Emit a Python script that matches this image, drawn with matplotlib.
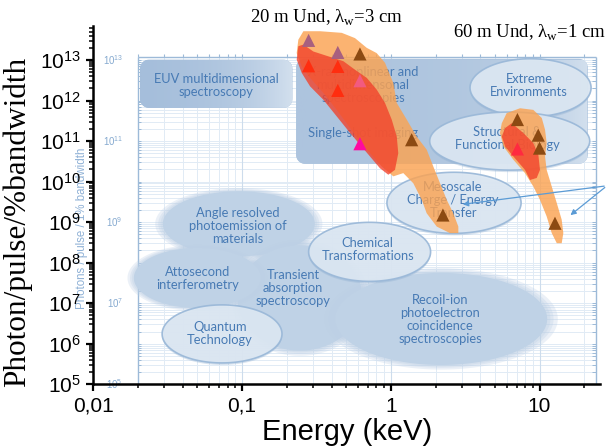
import numpy as np
import matplotlib.pyplot as plt
from matplotlib.ticker import FixedLocator, FixedFormatter, LogLocator, NullFormatter
from matplotlib.colors import LinearSegmentedColormap

plt.rcParams['mathtext.fontset'] = 'custom'
plt.rcParams['mathtext.rm'] = 'Liberation Sans'

# ---------------------------------------------------------------------------
# Undulator coverage (log10 keV, log10 photons) : outer envelope and core
und20_env_logE = [-0.588, -0.476, -0.330, -0.241, -0.162, -0.095, -0.039, 0.017, 0.040, 0.107,
                  0.174, 0.241, 0.286, 0.331, 0.376, 0.420, 0.454, 0.454, 0.398, 0.309,
                  0.241, 0.208, 0.151, 0.084, 0.017, -0.061, -0.140, -0.219, -0.297, -0.364,
                  -0.454, -0.543, -0.599, -0.633, -0.622]
und20_env_logN = [13.71, 13.71, 13.67, 13.54, 13.30, 13.17, 12.93, 12.43, 11.94, 11.53,
                  11.11, 10.79, 10.37, 9.96, 9.55, 9.22, 8.89, 8.73, 8.73, 8.89,
                  9.22, 9.55, 9.96, 10.21, 10.13, 10.37, 10.70, 11.03, 11.44, 11.77,
                  12.19, 12.56, 12.84, 13.17, 13.50]
und20_core_logE = [-0.622, -0.588, -0.521, -0.420, -0.319, -0.241, -0.162, -0.095, -0.039, 0.006,
                   0.040, 0.050, 0.028, -0.017, -0.073, -0.140, -0.207, -0.274, -0.364, -0.454,
                   -0.543, -0.599, -0.633]
und20_core_logN = [13.34, 13.38, 13.21, 13.09, 12.97, 12.76, 12.56, 12.27, 11.94, 11.53,
                   11.11, 10.70, 10.29, 10.17, 10.33, 10.62, 10.91, 11.20, 11.61, 12.02,
                   12.35, 12.68, 13.01]
und60_env_logE = [0.779, 0.869, 0.958, 1.015, 1.037, 1.048, 1.037, 1.048, 1.082, 1.116,
                  1.149, 1.160, 1.149, 1.116, 1.082, 1.048, 1.003, 0.958, 0.902, 0.824,
                  0.757, 0.734, 0.746]
und60_env_logN = [11.69, 11.81, 11.77, 11.57, 11.28, 10.95, 10.62, 10.29, 9.88, 9.47,
                  9.06, 8.73, 8.48, 8.48, 8.73, 9.14, 9.55, 9.88, 10.21, 10.54,
                  10.87, 11.20, 11.44]
und60_core_logE = [0.768, 0.813, 0.891, 0.958, 0.992, 1.003, 0.981, 0.936, 0.902, 0.824, 0.768, 0.746]
und60_core_logN = [11.32, 11.44, 11.20, 10.95, 10.66, 10.29, 10.09, 10.04, 10.29, 10.62, 10.87, 11.11]

# Harmonic points (keV, photons/pulse/0.1%BW)
und20_E = [0.28, 0.44, 0.62, 0.28, 0.44, 0.62, 0.44, 0.62, 1.38, 2.24]
und20_N = [3.05e13, 1.54e13, 1.41e13, 7.2e12, 6.95e12, 3.08e12, 1.78e12, 8.6e10, 1.08e11, 1.5e9]
und20_col = ['#a8607f', '#a8607f', '#8c4a12', '#ff2d0f', '#ff2d0f', '#f25a80', '#ff2d0f',
             '#ff0aa0', '#8c4a12', '#8c4a12']
und60_E = [7.1, 9.8, 10.0, 7.1, 12.7]
und60_N = [3.4e11, 1.4e11, 6.7e10, 6.4e10, 9.4e8]
und60_col = ['#8c4a12', '#8c4a12', '#8c4a12', '#ff2a40', '#8c4a12']

# Science cases (ellipses): centre, half axes in decades, style
sci_name = ['Angle resolved\nphotoemission of\nmaterials', 'Transient\nabsorption\nspectroscopy',
            'Attosecond\ninterferometry', 'Recoil-ion\nphotoelectron\ncoincidence\nspectroscopies',
            'Quantum\nTechnology', 'Chemical\nTransformations', 'Mesoscale\nCharge / Energy\nTransfer',
            'Extreme\nEnvironments', 'Structural &\nFunctional Biology']
sci_E = [0.095, 0.245, 0.050, 2.18, 0.0733, 0.72, 2.66, 8.7, 6.3]
sci_N = [9.1e8, 1.35e7, 4.2e7, 4.1e6, 1.75e6, 1.85e8, 3.0e9, 2.07e12, 1.0e11]
sci_dE = [0.511, 0.42, 0.427, 0.713, 0.403, 0.41, 0.451, 0.407, 0.538]
sci_dN = [0.802, 1.30, 0.741, 1.136, 0.716, 0.728, 0.753, 0.716, 0.716]
sci_ring = [False, False, False, False, True, True, True, True, True]
sci_text_E = [0.094, 0.22, 0.050, 2.14, 0.071, 0.70, 2.62, 8.5, 6.1]
sci_text_N = [8.1e8, 2.4e7, 4.0e7, 3.9e6, 1.75e6, 2.07e8, 3.56e9, 2.39e12, 1.14e11]

# Rounded boxes: energy range, photon range
box_E0 = [0.0206, 0.231]
box_E1 = [0.218, 21.1]
box_N0 = [6.6e11, 2.75e10]
box_N1 = [1.02e13, 1.07e13]
box_text = ['EUV multidimensional\nspectroscopy', 'X-ray nonlinear and\nmultidimensonal\nspectroscopies',
            'Single-shot imaging']
box_text_E = [0.0667, 0.65, 0.65]
box_text_N = [2.39e12, 2.46e12, 1.6e11]

# Background chart frame
frame_E = [0.02, 24.0]
frame_N = [1e5, 1.2e13]
frame_labels = [1e13, 1e11, 1e9, 1e7, 1e5]
# ---------------------------------------------------------------------------

TXT = '#477ab4'
t = np.linspace(0, 2 * np.pi, 240)


def ellipse_xy(e, n, de, dn, grow=0.0, shift=0.0):
    x = 10 ** (np.log10(e) + (de + grow * de) * np.cos(t))
    y = 10 ** (np.log10(n) - shift + (dn + grow * dn) * np.sin(t))
    return x, y


def rounded_box(e0, e1, n0, n1, rx=0.06, ry=0.22, k=14):
    x0, x1, y0, y1 = np.log10([e0, e1, n0, n1])
    a = np.linspace(0, np.pi / 2, k)
    xs, ys = [], []
    for cx, cy, a0 in [(x1 - rx, y1 - ry, 0), (x0 + rx, y1 - ry, np.pi / 2),
                       (x0 + rx, y0 + ry, np.pi), (x1 - rx, y0 + ry, 1.5 * np.pi)]:
        xs += list(cx + rx * np.cos(a0 + a))
        ys += list(cy + ry * np.sin(a0 + a))
    return 10 ** np.array(xs), 10 ** np.array(ys)


fig = plt.figure(figsize=(6.09, 4.47), dpi=100)
ax = fig.add_axes([93.4 / 609, 1 - 384.3 / 447, (600 - 93.4) / 609, (384.3 - 26) / 447])
ax.set_xscale('log')
ax.set_yscale('log')

# grid of the background chart
gx = np.array([k * 10.0 ** p for p in range(-2, 2) for k in range(1, 10)])
gx = gx[(gx >= frame_E[0]) & (gx <= frame_E[1])]
gy = np.array([k * 10.0 ** p for p in range(5, 14) for k in range(1, 10)])
gy = gy[(gy >= frame_N[0]) & (gy <= frame_N[1])]
ax.vlines(gx, frame_N[0], frame_N[1], color='#e1ebf5', lw=0.7, zorder=0.5)
ax.hlines(gy, frame_E[0], frame_E[1], color='#e1ebf5', lw=0.7, zorder=0.5)
ax.vlines([0.1, 1, 10], frame_N[0], frame_N[1], color='#cddcec', lw=0.8, zorder=0.6)
ax.vlines(frame_E, frame_N[0], frame_N[1], color='#9dbad8', lw=1.0, zorder=0.7)
ax.hlines(frame_N[1], frame_E[0], frame_E[1], color='#9dbad8', lw=1.0, zorder=0.7)
ax.vlines(gx, frame_N[1], frame_N[1] * 1.2, color='#9dbad8', lw=0.8, zorder=0.7)
ax.hlines(gy, frame_E[1] / 1.06, frame_E[1], color='#9dbad8', lw=0.7, zorder=0.7)
ax.hlines(gy, frame_E[0], frame_E[0] * 1.05, color='#9dbad8', lw=0.7, zorder=0.7)
for v in frame_labels:
    ax.text(0.0158, v, r'$\mathregular{10^{%d}}$' % np.log10(v), color='#86aad0', fontsize=7,
            ha='right', va='center', family='Liberation Sans', zorder=0.8, clip_on=False)
ax.text(0.0084, 7.2e8, 'Photons / pulse / 1% bandwidth', rotation=90, color='#8fb1d6',
        fontsize=8.3, ha='center', va='center', family='Liberation Sans', zorder=0.8, clip_on=False)

# rounded boxes with a horizontal gradient
grad = np.linspace(0, 1, 256).reshape(1, -1)
box_cmaps = [['#a5bedb', '#d3e0ee'], ['#adc4de', '#d3e0ee']]
for i in range(len(box_E0)):
    bx, by = rounded_box(box_E0[i], box_E1[i], box_N0[i], box_N1[i])
    patch = ax.fill(bx, by, color=box_cmaps[i][0], lw=0, zorder=1)[0]
    im = ax.imshow(grad, extent=[box_E0[i], box_E1[i], box_N0[i], box_N1[i]], aspect='auto',
                   cmap=LinearSegmentedColormap.from_list('b%d' % i, box_cmaps[i]), zorder=1.1,
                   interpolation='bilinear')
    im.set_clip_path(patch)
for i in range(len(box_text)):
    ax.text(box_text_E[i], box_text_N[i], box_text[i], color=TXT, fontsize=9.3, ha='center',
            va='center', family='Lato', linespacing=1.1, zorder=3)

# science-case ellipses
for i in range(len(sci_name)):
    if sci_ring[i]:
        x, y = ellipse_xy(sci_E[i], sci_N[i], sci_dE[i], sci_dN[i], shift=0.05)
        ax.fill(x, y, color='#8eaed0', alpha=0.35, lw=0, zorder=2)
        x, y = ellipse_xy(sci_E[i], sci_N[i], sci_dE[i], sci_dN[i])
        ax.fill(x, y, facecolor='#dce7f2', edgecolor='#9ab8d8', alpha=0.93, lw=1.2, zorder=2.1)
    else:
        for g in [0.10, 0.06, 0.03]:
            x, y = ellipse_xy(sci_E[i], sci_N[i], sci_dE[i], sci_dN[i], grow=g)
            ax.fill(x, y, color='#bdd0e5', alpha=0.3, lw=0, zorder=2)
        x, y = ellipse_xy(sci_E[i], sci_N[i], sci_dE[i], sci_dN[i])
        ax.fill(x, y, color='#bfd2e6', lw=0, zorder=2)
    ax.text(sci_text_E[i], sci_text_N[i], sci_name[i], color=TXT, fontsize=9.3, ha='center',
            va='center', family='Lato', linespacing=1.1, zorder=3)

# undulator coverage
ax.fill(10 ** np.array(und20_env_logE), 10 ** np.array(und20_env_logN), color='#fba352', alpha=0.82,
        lw=0, zorder=4)
ax.fill(10 ** np.array(und20_core_logE), 10 ** np.array(und20_core_logN), color='#f2402a', alpha=0.78,
        lw=0, zorder=4.5)
ax.fill(10 ** np.array(und60_env_logE), 10 ** np.array(und60_env_logN), color='#fba352', alpha=0.82,
        lw=0, zorder=4)
ax.fill(10 ** np.array(und60_core_logE), 10 ** np.array(und60_core_logN), color='#f2402a', alpha=0.78,
        lw=0, zorder=4.5)

ax.scatter(und20_E, und20_N, marker='^', s=90, c=und20_col, lw=0, zorder=6)
ax.scatter(und60_E, und60_N, marker='^', s=90, c=und60_col, lw=0, zorder=6)

# pointer arrows
for tip in [(2.92, 2.7e9), (15.6, 1.35e9)]:
    ax.annotate('', xy=tip, xytext=(28.4, 7.9e9), annotation_clip=False,
                arrowprops=dict(arrowstyle='-|>', color='#5b9bd5', lw=0.9, mutation_scale=8),
                zorder=7)

# outer axes
ax.set_xlim(0.01, 25.5)
ax.set_ylim(1e5, 6.9e13)
for s in ['top', 'right']:
    ax.spines[s].set_visible(False)
for s in ['left', 'bottom']:
    ax.spines[s].set_linewidth(1.8)
    ax.spines[s].set_zorder(10)

xt = [0.01, 0.1, 1, 10]
ax.xaxis.set_major_locator(FixedLocator(xt))
ax.xaxis.set_major_formatter(FixedFormatter(['0,01', '0,1', '1', '10']))
ax.xaxis.set_minor_locator(LogLocator(base=10, subs=np.arange(2, 10)))
ax.xaxis.set_minor_formatter(NullFormatter())
yt = [10.0 ** p for p in range(5, 14)]
ax.yaxis.set_major_locator(FixedLocator(yt))
ax.yaxis.set_major_formatter(FixedFormatter([r'$\mathregular{10^{%d}}$' % p for p in range(5, 14)]))
ax.yaxis.set_minor_locator(LogLocator(base=10, subs=np.arange(2, 10), numticks=30))
ax.yaxis.set_minor_formatter(NullFormatter())
ax.tick_params(which='major', direction='out', length=5, width=1.6, labelsize=15, pad=4)
ax.tick_params(which='minor', direction='out', length=3, width=1.1)
for lab in ax.get_xticklabels() + ax.get_yticklabels():
    lab.set_family('Liberation Sans')

fig.text(17 / 609, 1 - 222 / 447, 'Photon/pulse/%bandwidth', rotation=90, ha='center', va='center',
         fontsize=22.5, family='Liberation Serif')
fig.text(347 / 609, 1 - 432 / 447, 'Energy (keV)', ha='center', va='center', fontsize=21,
         family='Liberation Sans')
fig.text(327 / 609, 1 - 18 / 447, r'20 m Und, λ$_{\mathregular{w}}$=3 cm', ha='center', va='center',
         fontsize=13.5, family='Liberation Serif')
fig.text(530 / 609, 1 - 33 / 447, r'60 m Und, λ$_{\mathregular{w}}$=1 cm', ha='center', va='center',
         fontsize=13.5, family='Liberation Serif')

fig.savefig('out.png', dpi=100)
